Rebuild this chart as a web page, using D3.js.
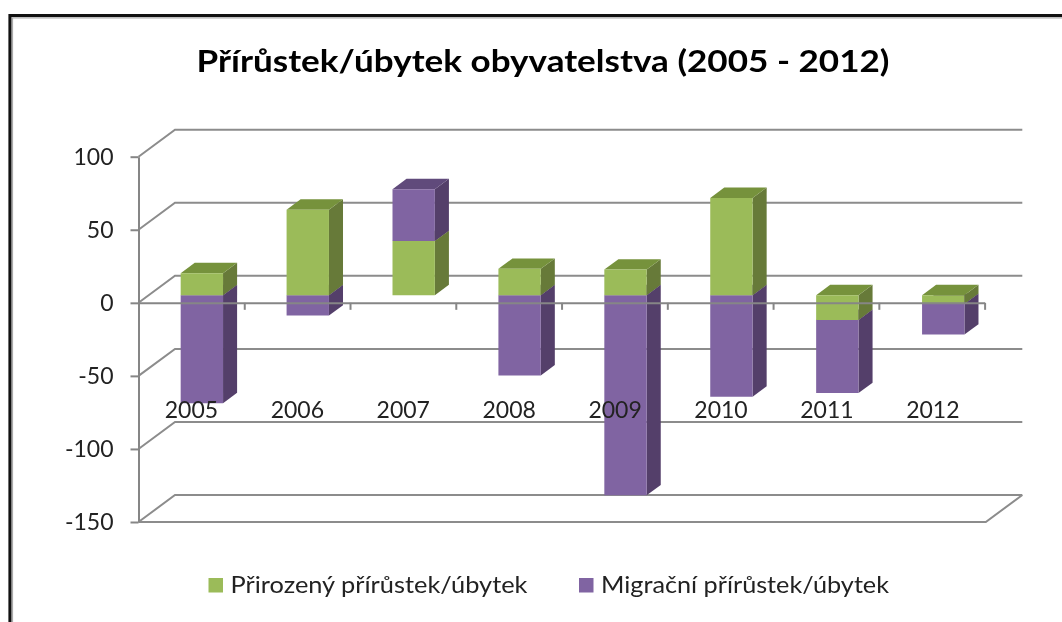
<!DOCTYPE html>
<html>
<head>
<meta charset="utf-8">
<script src="https://cdn.jsdelivr.net/npm/d3@7"></script>
<style>
    html, body { margin: 0; padding: 0; background: #fff; overflow: hidden; }
    svg { display: block; filter: blur(0.4px); }
    text { font-family: Lato, "Open Sans", sans-serif; fill: #222; }
    .axis path, .axis line { stroke: #868686; stroke-width: 2; }
    .axis text { font-size: 23px; }
    .grid { fill: none; stroke: #8c8c8c; stroke-width: 2; }
</style>
</head>
<body>
<svg id="chart" width="1062" height="622"></svg>
<script>
// values
var years = ["2005", "2006", "2007", "2008", "2009", "2010", "2011", "2012"]
var natural = [15, 58.5, 37, 18, 17.5, 66.5, -17, -6]
var migration = [-74, -14, 35.5, -55, -137, -69.5, -50, -21]
var yTicks = [100, 50, 0, -50, -100, -150]
var seriesNames = ["Přirozený přírůstek/úbytek", "Migrační přírůstek/úbytek"]
var titleText = "Přírůstek/úbytek obyvatelstva (2005 - 2012)"

var colors = [
    { front: "#9bbb59", side: "#677a39", top: "#76923c" },
    { front: "#8064a2", side: "#543f6a", top: "#604a7b" }
]

var svg = d3.select("#chart")

// outer frame, open on the right and at the bottom
svg.append("path").attr("d", "M10,622V15.5H1062").attr("fill", "none").attr("stroke", "#111").attr("stroke-width", 3.2)
svg.append("path").attr("d", "M12.4,622V17.9H1062").attr("fill", "none").attr("stroke", "#aaa").attr("stroke-width", 1.4)

// set the ranges
var x = d3.scaleBand().domain(years).range([138.5, 985.8])
var xTicks = d3.scaleLinear().domain([0, 8]).range([138.5, 984.6])
var y = d3.scaleLinear().domain([-150, 100]).range([522, 156.7])

// depth of the fake 3d box
var depthX = 36.5,
    depthY = -27,
    barFront = 0.285,
    barBack = 0.67

function project(px, py, t) {
    return [px + depthX * t, py + depthY * t]
}

// back wall gridlines with their diagonal on the left
var wall = d3.line()
svg.append("g").selectAll("path")
    .data(yTicks)
    .enter().append("path")
    .attr("class", "grid")
    .attr("d", function(d) {
        return wall([project(x.range()[0], y(d), 0), project(x.range()[0], y(d), 1), project(x.range()[1], y(d), 1)])
    })

// floor
svg.append("path")
    .attr("class", "grid")
    .attr("d", wall([
        project(x.range()[0], y(-150), 0),
        project(x.range()[1], y(-150), 0),
        project(x.range()[1], y(-150), 1)
    ]))

// stack the two series, negatives go below zero
var table = years.map(function(year, i) {
    return { year: year, natural: natural[i], migration: migration[i] }
})
var stacked = d3.stack()
    .keys(["natural", "migration"])
    .offset(d3.stackOffsetDiverging)(table)

var segments = []
stacked.forEach(function(layer, s) {
    layer.forEach(function(d) {
        segments.push({
            year: d.data.year,
            low: Math.min(d[0], d[1]),
            high: Math.max(d[0], d[1]),
            color: colors[s]
        })
    })
})

// lower pieces first so the ones above cover their top faces
segments.sort(function(a, b) { return a.low - b.low })

var barWidth = x.bandwidth() / 2.5
var barsG = svg.append("g")

segments.forEach(function(d) {
    var x0 = x(d.year) + (x.bandwidth() - barWidth) / 2,
        x1 = x0 + barWidth,
        yTop = y(d.high),
        yBottom = y(d.low)

    var front = [project(x0, yTop, barFront), project(x1, yTop, barFront), project(x1, yBottom, barFront), project(x0, yBottom, barFront)]
    var side = [project(x1, yTop, barFront), project(x1, yTop, barBack), project(x1, yBottom, barBack), project(x1, yBottom, barFront)]
    var top = [project(x0, yTop, barFront), project(x0, yTop, barBack), project(x1, yTop, barBack), project(x1, yTop, barFront)]

    barsG.append("polygon").attr("points", side.join(" ")).attr("fill", d.color.side)
    barsG.append("polygon").attr("points", top.join(" ")).attr("fill", d.color.top)
    barsG.append("polygon").attr("points", front.join(" ")).attr("fill", d.color.front)
})

// y axis, plain hyphen for the negative labels
svg.append("g")
    .attr("class", "axis")
    .attr("transform", "translate(" + x.range()[0] + ",0)")
    .call(d3.axisLeft(y).tickValues(yTicks).tickSize(8).tickPadding(17).tickSizeOuter(0).tickFormat(function(d) { return String(d) }))

// x axis line and its tick marks at zero
svg.append("g")
    .attr("class", "axis")
    .attr("transform", "translate(0," + y(0) + ")")
    .call(d3.axisBottom(xTicks).tickValues(d3.range(1, 9)).tickSize(7).tickSizeOuter(0).tickFormat(""))

// the year labels sit far under the zero line, on top of the bars
var labelAxis = svg.append("g")
    .attr("class", "axis")
    .attr("transform", "translate(0," + y(0) + ")")
    .call(d3.axisBottom(x).tickSize(0).tickPadding(98.5))
labelAxis.select(".domain").remove()

// title, stretched to the width it has in the picture
svg.append("text")
    .attr("x", 196.5)
    .attr("y", 72)
    .attr("textLength", 693)
    .attr("lengthAdjust", "spacingAndGlyphs")
    .style("font-size", "31px")
    .style("font-weight", "700")
    .style("fill", "#000")
    .text(titleText)

// legend
var legendX = [208.5, 579],
    legendWidth = [297, 288],
    legendG = svg.append("g")

seriesNames.forEach(function(name, i) {
    legendG.append("rect")
        .attr("x", legendX[i])
        .attr("y", 578)
        .attr("width", 14.5)
        .attr("height", 14.5)
        .attr("fill", colors[i].front)
    legendG.append("text")
        .attr("x", legendX[i] + 22)
        .attr("y", 593)
        .attr("textLength", legendWidth[i])
        .attr("lengthAdjust", "spacingAndGlyphs")
        .style("font-size", "23px")
        .text(name)
})
</script>
</body>
</html>
